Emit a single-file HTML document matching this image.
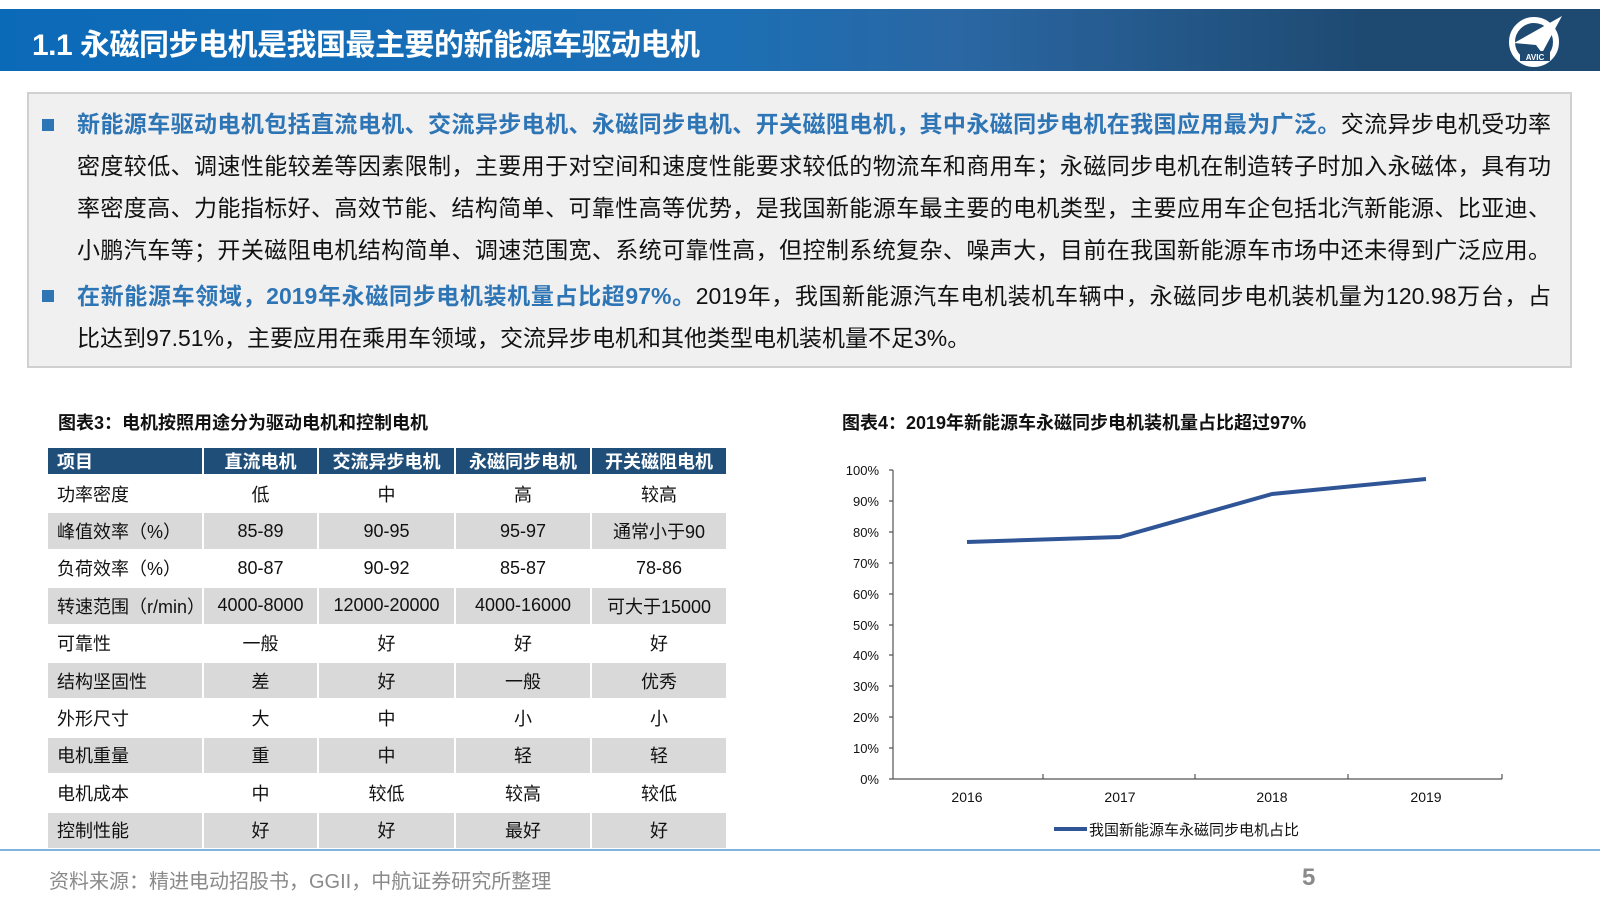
<!DOCTYPE html>
<html><head><meta charset="utf-8"><style>
*{margin:0;padding:0;box-sizing:border-box}
body{width:1600px;height:900px;background:#fff;position:relative;overflow:hidden;font-family:"Liberation Sans","Noto Sans CJK SC",sans-serif;color:#111}
.hdr{position:absolute;left:0;top:9px;width:1600px;height:62px;background:linear-gradient(90deg,#0b6ab8 0%,#1c6fb5 45%,#2a67a3 60%,#1e4a72 85%,#1e4a72 100%)}
.hdr h1{position:absolute;left:32px;top:11px;color:#fff;font-size:30px;font-weight:bold;letter-spacing:-0.5px}
.box{position:absolute;left:27px;top:92px;width:1545px;height:276px;background:#f0f0f0;border:2px solid #d0d0d0}
.ln{position:absolute;left:77px;width:1474px;font-size:23px;white-space:nowrap;text-align:justify;text-align-last:justify;line-height:30px;color:#111}
.b{color:#2e75b6;font-weight:bold}
.sq{position:absolute;left:42px;width:12px;height:12px;background:#2e75b6}
.cap{position:absolute;font-size:18px;font-weight:bold;color:#111}
table{position:absolute;left:46px;top:446px;border-collapse:collapse;font-size:18px}
td{height:37.4px;text-align:center;border:2px solid #fff;padding:0}
tr.h td{height:28px;background:#1f4e79;color:#fff;font-weight:bold;font-size:18px}
tr.g td{background:#d9d9d9}
td.l{text-align:left;padding-left:9px}
.foot{position:absolute;left:0;top:849px;width:1600px;height:2px;background:#7fb3e0}
.src{position:absolute;left:49px;top:865px;font-size:20px;color:#8a8a8a}
.pg{position:absolute;left:1302px;top:864px;font-size:24px;color:#8a8a8a;font-weight:bold}
</style></head><body>
<div class="hdr"><h1>1.1 永磁同步电机是我国最主要的新能源车驱动电机</h1>
<svg style="position:absolute;left:1506px;top:4px" width="60" height="56" viewBox="0 0 60 56">
<circle cx="28" cy="29" r="22" fill="none" stroke="#fff" stroke-width="6"/>
<path d="M8 30 L56 3 L36 40 L30 32 Z" fill="#fff"/>
<rect x="14" y="38" width="30" height="10" fill="#1e4a72"/>
<text x="29" y="47" fill="#fff" font-size="8" font-weight="bold" text-anchor="middle" font-family="Liberation Sans">AVIC</text>
</svg></div>
<div class="box"></div>
<div class="sq" style="top:119px"></div>
<div class="sq" style="top:290px"></div>
<div class="ln" style="top:109px"><span class="b">新能源车驱动电机包括直流电机、交流异步电机、永磁同步电机、开关磁阻电机，其中永磁同步电机在我国应用最为广泛。</span>交流异步电机受功率</div>
<div class="ln" style="top:151px">密度较低、调速性能较差等因素限制，主要用于对空间和速度性能要求较低的物流车和商用车；永磁同步电机在制造转子时加入永磁体，具有功</div>
<div class="ln" style="top:193px">率密度高、力能指标好、高效节能、结构简单、可靠性高等优势，是我国新能源车最主要的电机类型，主要应用车企包括北汽新能源、比亚迪、</div>
<div class="ln" style="top:235px">小鹏汽车等；开关磁阻电机结构简单、调速范围宽、系统可靠性高，但控制系统复杂、噪声大，目前在我国新能源车市场中还未得到广泛应用。</div>
<div class="ln" style="top:281px"><span class="b">在新能源车领域，2019年永磁同步电机装机量占比超97%。</span>2019年，我国新能源汽车电机装机车辆中，永磁同步电机装机量为120.98万台，占</div>
<div class="ln" style="top:323px;text-align-last:left">比达到97.51%，主要应用在乘用车领域，交流异步电机和其他类型电机装机量不足3%。</div>

<div class="cap" style="left:58px;top:409px">图表3：电机按照用途分为驱动电机和控制电机</div>
<div class="cap" style="left:842px;top:409px">图表4：2019年新能源车永磁同步电机装机量占比超过97%</div>

<table>
<colgroup><col style="width:156px"><col style="width:115px"><col style="width:137px"><col style="width:136px"><col style="width:136px"></colgroup>
<tr class="h"><td class="l">项目</td><td>直流电机</td><td>交流异步电机</td><td>永磁同步电机</td><td>开关磁阻电机</td></tr>
<tr><td class="l">功率密度</td><td>低</td><td>中</td><td>高</td><td>较高</td></tr>
<tr class="g"><td class="l">峰值效率（%）</td><td>85-89</td><td>90-95</td><td>95-97</td><td>通常小于90</td></tr>
<tr><td class="l">负荷效率（%）</td><td>80-87</td><td>90-92</td><td>85-87</td><td>78-86</td></tr>
<tr class="g"><td class="l">转速范围（r/min）</td><td>4000-8000</td><td>12000-20000</td><td>4000-16000</td><td>可大于15000</td></tr>
<tr><td class="l">可靠性</td><td>一般</td><td>好</td><td>好</td><td>好</td></tr>
<tr class="g"><td class="l">结构坚固性</td><td>差</td><td>好</td><td>一般</td><td>优秀</td></tr>
<tr><td class="l">外形尺寸</td><td>大</td><td>中</td><td>小</td><td>小</td></tr>
<tr class="g"><td class="l">电机重量</td><td>重</td><td>中</td><td>轻</td><td>轻</td></tr>
<tr><td class="l">电机成本</td><td>中</td><td>较低</td><td>较高</td><td>较低</td></tr>
<tr class="g"><td class="l">控制性能</td><td>好</td><td>好</td><td>最好</td><td>好</td></tr>
</table>

<svg style="position:absolute;left:0;top:0" width="1600" height="900" font-family="Liberation Sans" font-size="13" fill="#111">
<g stroke="#555" stroke-width="1.2" fill="none">
<line x1="893" y1="470" x2="893" y2="779"/>
<line x1="893" y1="779" x2="1502" y2="779"/>
<path d="M889 470h4M889 501h4M889 532h4M889 563h4M889 594h4M889 625h4M889 655h4M889 686h4M889 717h4M889 748h4M889 779h4"/>
<path d="M1043 779v-5M1195 779v-5M1348 779v-5M1502 779v-5"/>
</g>
<g text-anchor="end">
<text x="879" y="475">100%</text><text x="879" y="506">90%</text><text x="879" y="537">80%</text><text x="879" y="568">70%</text><text x="879" y="599">60%</text><text x="879" y="630">50%</text><text x="879" y="660">40%</text><text x="879" y="691">30%</text><text x="879" y="722">20%</text><text x="879" y="753">10%</text><text x="879" y="784">0%</text>
</g>
<g text-anchor="middle" font-size="14">
<text x="967" y="802">2016</text><text x="1120" y="802">2017</text><text x="1272" y="802">2018</text><text x="1426" y="802">2019</text>
</g>
<polyline points="967,542 1120,537 1272,494 1426,479" fill="none" stroke="#2f5597" stroke-width="4" stroke-linejoin="round"/>
<line x1="1054" y1="829" x2="1087" y2="829" stroke="#2f5597" stroke-width="4"/>
<text x="1089" y="835" font-size="15" font-family="Liberation Sans,Noto Sans CJK SC,sans-serif">我国新能源车永磁同步电机占比</text>
</svg>

<div class="foot"></div>
<div class="src">资料来源：精进电动招股书，GGII，中航证券研究所整理</div>
<div class="pg">5</div>
</body></html>
